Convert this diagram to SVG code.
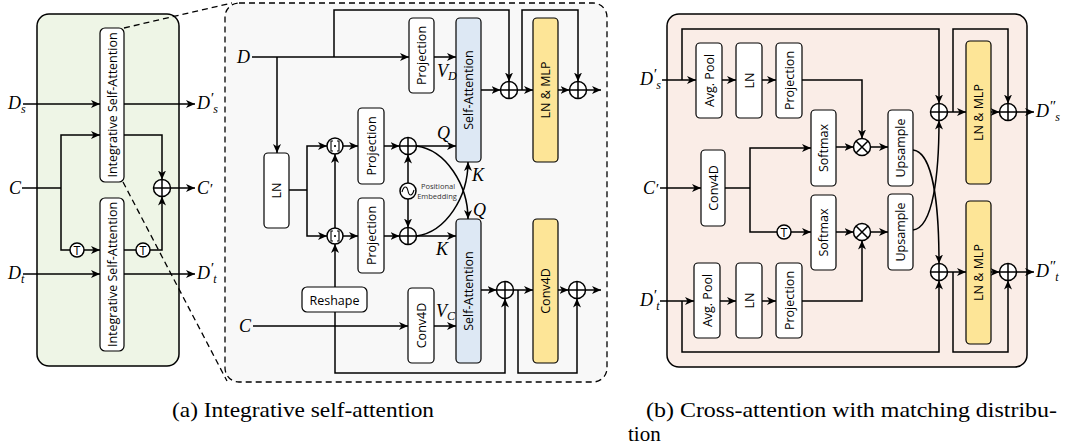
<svg xmlns="http://www.w3.org/2000/svg" width="1067" height="448" viewBox="0 0 1067 448">
<style>
.ln{fill:none;stroke:#000;stroke-width:1.5}
.box{fill:#fff;stroke:#000;stroke-width:1.2}
.sa{fill:#dde8f4;stroke:#000;stroke-width:1.2}
.ym{fill:#fde597;stroke:#000;stroke-width:1.2}
.op{fill:#fff;stroke:#000;stroke-width:1.5}
.lbl{font-family:"Open Sans","DejaVu Sans",sans-serif;font-size:12.5px;fill:#000}
.m{font-family:"Liberation Serif",serif;font-style:italic;font-size:18px;fill:#000}
.cap{font-family:"Liberation Serif",serif;font-size:21px;fill:#000}
.small{font-family:"Open Sans","DejaVu Sans",sans-serif;font-size:7.5px;fill:#333}
</style>
<defs>
<marker id="ar" markerUnits="userSpaceOnUse" markerWidth="9" markerHeight="8" refX="9" refY="4" orient="auto">
<path d="M0,0 L9,4 L0,8 L2.5,4 z" fill="#000"/>
</marker>
<g id="plus"><circle r="8.5" class="op"/><path d="M-8.5,0 H8.5 M0,-8.5 V8.5" class="ln"/></g>
<g id="times"><circle r="8.5" class="op"/><path d="M-6,-6 L6,6 M-6,6 L6,-6" class="ln"/></g>
<g id="cat"><circle r="8" class="op"/><path d="M-2,-5 H-4 V5 H-2 M2,-5 H4 V5 H2" fill="none" stroke="#000" stroke-width="1.1"/><circle r="1.1" fill="#000"/></g>
</defs>

<!-- (a) Left panel -->
<g id="panel-a">
<rect x="37" y="14" width="142" height="352" rx="12" fill="#eef5e6" stroke="#000" stroke-width="1.5"/>
</g>
<g id="zoom-lines">
<path d="M124,28 L232,3 M123,182 L227,381" fill="none" stroke="#000" stroke-width="1.3" stroke-dasharray="6,4"/>
</g>
<g id="panel-mid">
<rect x="225" y="3" width="382" height="379" rx="14" fill="#f8f8f8" stroke="#000" stroke-width="1.3" stroke-dasharray="6,4"/>
</g>
<g id="panel-b">
<rect x="667" y="14" width="360" height="353" rx="12" fill="#faede7" stroke="#000" stroke-width="1.5"/>
</g>

<g id="connectors">
<!-- left -->
<path class="ln" marker-end="url(#ar)" d="M23,104 H100"/>
<path class="ln" marker-end="url(#ar)" d="M124,104 H195"/>
<path class="ln" d="M22,188 H61"/>
<path class="ln" marker-end="url(#ar)" d="M61,188 V135 H100"/>
<path class="ln" d="M61,188 V250 H70"/>
<path class="ln" marker-end="url(#ar)" d="M84,250 H100"/>
<path class="ln" marker-end="url(#ar)" d="M124,135 H162 V179.5"/>
<path class="ln" marker-end="url(#ar)" d="M170.5,188 H195"/>
<path class="ln" d="M124,250 H136"/>
<path class="ln" marker-end="url(#ar)" d="M150,250 H162 V196.5"/>
<path class="ln" marker-end="url(#ar)" d="M23,274 H100"/>
<path class="ln" marker-end="url(#ar)" d="M124,274 H195"/>
<!-- middle -->
<path class="ln" marker-end="url(#ar)" d="M252,57 H409"/>
<path class="ln" marker-end="url(#ar)" d="M277,57 V153"/>
<path class="ln" marker-end="url(#ar)" d="M334,57 V10 H509 V81.5"/>
<path class="ln" marker-end="url(#ar)" d="M434,57 H456"/>
<path class="ln" marker-end="url(#ar)" d="M481,90 H500.5"/>
<path class="ln" marker-end="url(#ar)" d="M517.5,90 H533"/>
<path class="ln" marker-end="url(#ar)" d="M522,90 V10 H578 V81.5"/>
<path class="ln" marker-end="url(#ar)" d="M558,90 H569.5"/>
<path class="ln" marker-end="url(#ar)" d="M586.5,90 H601"/>
<path class="ln" d="M289,190 H307"/>
<path class="ln" marker-end="url(#ar)" d="M307,190 V146 H327"/>
<path class="ln" marker-end="url(#ar)" d="M307,190 V236 H327"/>
<path class="ln" marker-end="url(#ar)" d="M343,146 H358"/>
<path class="ln" marker-end="url(#ar)" d="M343,236 H358"/>
<path class="ln" marker-end="url(#ar)" d="M335,228 V154"/>
<path class="ln" marker-end="url(#ar)" d="M335,287 V244"/>
<path class="ln" marker-end="url(#ar)" d="M384,146 H399.5"/>
<path class="ln" marker-end="url(#ar)" d="M384,236 H399.5"/>
<path class="ln" marker-end="url(#ar)" d="M408,183 V154.5"/>
<path class="ln" marker-end="url(#ar)" d="M408,199 V227.5"/>
<path class="ln" marker-end="url(#ar)" d="M416.5,146 H456"/>
<path class="ln" marker-end="url(#ar)" d="M416.5,236 H456"/>
<path class="ln" marker-end="url(#ar)" d="M416.5,146 C446,150 468,185 468,219"/>
<path class="ln" marker-end="url(#ar)" d="M416.5,236 C446,232 468,197 468,162"/>
<path class="ln" marker-end="url(#ar)" d="M253,326 H408"/>
<path class="ln" marker-end="url(#ar)" d="M335,312 V373 H505 V298.5"/>
<path class="ln" marker-end="url(#ar)" d="M434,326 H456"/>
<path class="ln" marker-end="url(#ar)" d="M481,290 H496.5"/>
<path class="ln" marker-end="url(#ar)" d="M513.5,290 H533"/>
<path class="ln" marker-end="url(#ar)" d="M518,290 V373 H577 V298.5"/>
<path class="ln" marker-end="url(#ar)" d="M558,290 H568.5"/>
<path class="ln" marker-end="url(#ar)" d="M585.5,290 H601"/>
<!-- right -->
<path class="ln" marker-end="url(#ar)" d="M662,80 H696"/>
<path class="ln" marker-end="url(#ar)" d="M682,80 V29 H939 V103.5"/>
<path class="ln" marker-end="url(#ar)" d="M722,80 H736"/>
<path class="ln" marker-end="url(#ar)" d="M762,80 H776"/>
<path class="ln" marker-end="url(#ar)" d="M802,80 H862 V138.5"/>
<path class="ln" marker-end="url(#ar)" d="M660,188 H701"/>
<path class="ln" d="M725,188 H750"/>
<path class="ln" marker-end="url(#ar)" d="M750,188 V148 H811"/>
<path class="ln" d="M750,188 V232 H777"/>
<path class="ln" marker-end="url(#ar)" d="M791,232 H811"/>
<path class="ln" marker-end="url(#ar)" d="M836,147 H853.5"/>
<path class="ln" marker-end="url(#ar)" d="M870.5,147 H888"/>
<path class="ln" marker-end="url(#ar)" d="M836,232 H853.5"/>
<path class="ln" marker-end="url(#ar)" d="M870.5,232 H888"/>
<path class="ln" marker-end="url(#ar)" d="M660,301 H694"/>
<path class="ln" marker-end="url(#ar)" d="M682,301 V352 H939 V280.5"/>
<path class="ln" marker-end="url(#ar)" d="M720,301 H736"/>
<path class="ln" marker-end="url(#ar)" d="M762,301 H776"/>
<path class="ln" marker-end="url(#ar)" d="M802,301 H862 V240.5"/>
<path class="ln" marker-end="url(#ar)" d="M913,150 C933,152 939,205 939,263.5"/>
<path class="ln" marker-end="url(#ar)" d="M913,230 C933,228 939,175 939,120.5"/>
<path class="ln" marker-end="url(#ar)" d="M947.5,112 H966"/>
<path class="ln" marker-end="url(#ar)" d="M953,112 V29 H1008 V103.5"/>
<path class="ln" marker-end="url(#ar)" d="M991,112 H999.5"/>
<path class="ln" marker-end="url(#ar)" d="M1016.5,112 H1034"/>
<path class="ln" marker-end="url(#ar)" d="M947.5,272 H966"/>
<path class="ln" marker-end="url(#ar)" d="M953,272 V352 H1008 V280.5"/>
<path class="ln" marker-end="url(#ar)" d="M991,272 H999.5"/>
<path class="ln" marker-end="url(#ar)" d="M1016.5,272 H1034"/>
</g>

<!-- left nodes -->
<g id="isa-top"><rect class="box" x="100" y="28" width="24" height="154" rx="5"/><text class="lbl" font-size="12px" text-anchor="middle" dominant-baseline="central" transform="translate(112,105) rotate(-90)">Integrative Self-Attention</text></g>
<g id="isa-bot"><rect class="box" x="100" y="198" width="24" height="153" rx="5"/><text class="lbl" font-size="12px" text-anchor="middle" dominant-baseline="central" transform="translate(112,274.5) rotate(-90)">Integrative Self-Attention</text></g>
<g id="a-plus"><use href="#plus" x="162" y="188"/></g>
<g id="a-t1"><circle cx="77" cy="250" r="7" class="op"/><text class="lbl" x="77" y="250" text-anchor="middle" dominant-baseline="central" font-size="10.5">T</text></g>
<g id="a-t2"><circle cx="143" cy="250" r="7" class="op"/><text class="lbl" x="143" y="250" text-anchor="middle" dominant-baseline="central" font-size="10.5">T</text></g>
<g id="a-labels">
<text class="m" x="8" y="109">D<tspan font-size="12" dy="4">s</tspan></text>
<text class="m" x="197" y="109">D<tspan font-size="15" dy="-6">′</tspan><tspan font-size="12" dy="10">s</tspan></text>
<text class="m" x="9" y="194">C</text>
<text class="m" x="197" y="194">C<tspan font-size="15">′</tspan></text>
<text class="m" x="8" y="279">D<tspan font-size="12" dy="4">t</tspan></text>
<text class="m" x="197" y="279">D<tspan font-size="15" dy="-6">′</tspan><tspan font-size="12" dy="10">t</tspan></text>
</g>

<!-- middle nodes -->
<g id="m-projV"><rect class="box" x="409" y="18" width="25" height="75" rx="4"/><text class="lbl" text-anchor="middle" dominant-baseline="central" transform="translate(421.5,55.5) rotate(-90)">Projection</text></g>
<g id="m-sa1"><rect class="sa" x="456" y="18" width="25" height="144" rx="4"/><text class="lbl" text-anchor="middle" dominant-baseline="central" transform="translate(468.5,90) rotate(-90)">Self-Attention</text></g>
<g id="m-mlp"><rect class="ym" x="533" y="18" width="25" height="144" rx="4"/><text class="lbl" text-anchor="middle" dominant-baseline="central" transform="translate(545.5,90) rotate(-90)">LN &amp; MLP</text></g>
<g id="m-plus1"><use href="#plus" x="509" y="90"/></g>
<g id="m-plus2"><use href="#plus" x="578" y="90"/></g>
<g id="m-ln"><rect class="box" x="264" y="153" width="25" height="75" rx="4"/><text class="lbl" text-anchor="middle" dominant-baseline="central" transform="translate(276.5,190.5) rotate(-90)">LN</text></g>
<g id="m-cat1"><use href="#cat" x="335" y="146"/></g>
<g id="m-cat2"><use href="#cat" x="335" y="236"/></g>
<g id="m-projQ"><rect class="box" x="358" y="108" width="26" height="76" rx="4"/><text class="lbl" text-anchor="middle" dominant-baseline="central" transform="translate(371,146) rotate(-90)">Projection</text></g>
<g id="m-projK"><rect class="box" x="358" y="198" width="26" height="75" rx="4"/><text class="lbl" text-anchor="middle" dominant-baseline="central" transform="translate(371,235.5) rotate(-90)">Projection</text></g>
<g id="m-plusQ"><use href="#plus" x="408" y="146"/></g>
<g id="m-plusK"><use href="#plus" x="408" y="236"/></g>
<g id="m-pe"><circle cx="408" cy="191" r="8" class="op"/><path d="M402,192 C404,185 407,186 408,191 C409,196 412,197 414,190" fill="none" stroke="#000" stroke-width="1.1"/><text class="small" x="438" y="189" text-anchor="middle">Positional</text><text class="small" x="437" y="199" text-anchor="middle">Embedding</text></g>
<g id="m-reshape"><rect class="box" x="302" y="287" width="65" height="25" rx="5"/><text class="lbl" x="334.5" y="300" text-anchor="middle" dominant-baseline="central" font-size="13">Reshape</text></g>
<g id="m-conv"><rect class="box" x="408" y="288" width="26" height="75" rx="4"/><text class="lbl" text-anchor="middle" dominant-baseline="central" transform="translate(421,325.5) rotate(-90)">Conv4D</text></g>
<g id="m-sa2"><rect class="sa" x="456" y="219" width="25" height="144" rx="4"/><text class="lbl" text-anchor="middle" dominant-baseline="central" transform="translate(468.5,291) rotate(-90)">Self-Attention</text></g>
<g id="m-conv2"><rect class="ym" x="533" y="219" width="25" height="144" rx="4"/><text class="lbl" text-anchor="middle" dominant-baseline="central" transform="translate(545.5,291) rotate(-90)">Conv4D</text></g>
<g id="m-plus3"><use href="#plus" x="505" y="290"/></g>
<g id="m-plus4"><use href="#plus" x="577" y="290"/></g>
<g id="m-labels">
<text class="m" x="237" y="63">D</text>
<text class="m" x="239" y="332">C</text>
<text class="m" x="437" y="77">V<tspan font-size="12" dy="3">D</tspan></text>
<text class="m" x="436" y="317">V<tspan font-size="12" dy="3">C</tspan></text>
<text class="m" x="437" y="139">Q</text>
<text class="m" x="436" y="255">K</text>
<text class="m" x="472" y="181">K</text>
<text class="m" x="473" y="216">Q</text>
</g>

<!-- right nodes -->
<g id="b-pool1"><rect class="box" x="696" y="43" width="26" height="75" rx="4"/><text class="lbl" text-anchor="middle" dominant-baseline="central" transform="translate(709,80.5) rotate(-90)">Avg. Pool</text></g>
<g id="b-ln1"><rect class="box" x="736" y="43" width="26" height="75" rx="4"/><text class="lbl" text-anchor="middle" dominant-baseline="central" transform="translate(749,80.5) rotate(-90)">LN</text></g>
<g id="b-proj1"><rect class="box" x="776" y="43" width="26" height="75" rx="4"/><text class="lbl" text-anchor="middle" dominant-baseline="central" transform="translate(789,80.5) rotate(-90)">Projection</text></g>
<g id="b-conv"><rect class="box" x="701" y="150" width="24" height="76" rx="4"/><text class="lbl" text-anchor="middle" dominant-baseline="central" transform="translate(713,188) rotate(-90)">Conv4D</text></g>
<g id="b-t"><circle cx="784" cy="232" r="7" class="op"/><text class="lbl" x="784" y="232" text-anchor="middle" dominant-baseline="central" font-size="10.5">T</text></g>
<g id="b-soft1"><rect class="box" x="811" y="110" width="25" height="76" rx="4"/><text class="lbl" text-anchor="middle" dominant-baseline="central" transform="translate(823.5,148) rotate(-90)">Softmax</text></g>
<g id="b-soft2"><rect class="box" x="811" y="195" width="25" height="75" rx="4"/><text class="lbl" text-anchor="middle" dominant-baseline="central" transform="translate(823.5,232.5) rotate(-90)">Softmax</text></g>
<g id="b-x1"><use href="#times" x="862" y="147"/></g>
<g id="b-x2"><use href="#times" x="862" y="232"/></g>
<g id="b-up1"><rect class="box" x="888" y="110" width="25" height="76" rx="4"/><text class="lbl" text-anchor="middle" dominant-baseline="central" transform="translate(900.5,148) rotate(-90)">Upsample</text></g>
<g id="b-up2"><rect class="box" x="888" y="194" width="25" height="76" rx="4"/><text class="lbl" text-anchor="middle" dominant-baseline="central" transform="translate(900.5,232) rotate(-90)">Upsample</text></g>
<g id="b-pool2"><rect class="box" x="694" y="263" width="26" height="75" rx="4"/><text class="lbl" text-anchor="middle" dominant-baseline="central" transform="translate(707,300.5) rotate(-90)">Avg. Pool</text></g>
<g id="b-ln2"><rect class="box" x="736" y="263" width="26" height="75" rx="4"/><text class="lbl" text-anchor="middle" dominant-baseline="central" transform="translate(749,300.5) rotate(-90)">LN</text></g>
<g id="b-proj2"><rect class="box" x="776" y="263" width="26" height="75" rx="4"/><text class="lbl" text-anchor="middle" dominant-baseline="central" transform="translate(789,300.5) rotate(-90)">Projection</text></g>
<g id="b-plus1"><use href="#plus" x="939" y="112"/></g>
<g id="b-plus2"><use href="#plus" x="939" y="272"/></g>
<g id="b-mlp1"><rect class="ym" x="966" y="41" width="25" height="143" rx="4"/><text class="lbl" text-anchor="middle" dominant-baseline="central" transform="translate(978.5,112.5) rotate(-90)">LN &amp; MLP</text></g>
<g id="b-mlp2"><rect class="ym" x="966" y="201" width="25" height="143" rx="4"/><text class="lbl" text-anchor="middle" dominant-baseline="central" transform="translate(978.5,272.5) rotate(-90)">LN &amp; MLP</text></g>
<g id="b-plus3"><use href="#plus" x="1008" y="112"/></g>
<g id="b-plus4"><use href="#plus" x="1008" y="272"/></g>
<g id="b-labels">
<text class="m" x="640" y="85">D<tspan font-size="15" dy="-6">′</tspan><tspan font-size="12" dy="10">s</tspan></text>
<text class="m" x="643" y="194">C<tspan font-size="15">′</tspan></text>
<text class="m" x="640" y="306">D<tspan font-size="15" dy="-6">′</tspan><tspan font-size="12" dy="10">t</tspan></text>
<text class="m" x="1036" y="117">D<tspan font-size="15" dy="-6">″</tspan><tspan font-size="12" dy="10">s</tspan></text>
<text class="m" x="1036" y="277">D<tspan font-size="15" dy="-6">″</tspan><tspan font-size="12" dy="10">t</tspan></text>
</g>

<g id="captions">
<text class="cap" x="172" y="417" textLength="262" lengthAdjust="spacingAndGlyphs">(a) Integrative self-attention</text>
<text class="cap" x="646" y="417" textLength="411" lengthAdjust="spacingAndGlyphs">(b) Cross-attention with matching distribu-</text>
<text class="cap" x="628" y="441">tion</text>
</g>
</svg>
